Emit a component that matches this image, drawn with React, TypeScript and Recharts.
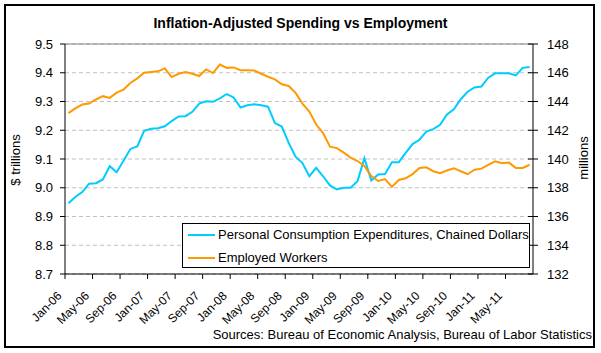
import React from 'react';
import { LineChart, Line, XAxis, YAxis, CartesianGrid, ReferenceLine } from 'recharts';

const years = ['06', '07', '08', '09', '10', '11'];
const monthNames = ['Jan', 'Feb', 'Mar', 'Apr', 'May', 'Jun', 'Jul', 'Aug', 'Sep', 'Oct', 'Nov', 'Dec'];

// Jan-06 .. Aug-11
const spending = [
  8.946, 8.968, 8.985, 9.014, 9.016, 9.029, 9.075, 9.054, 9.094, 9.135, 9.144, 9.198,
  9.205, 9.207, 9.214, 9.232, 9.248, 9.249, 9.264, 9.293, 9.301, 9.299, 9.311, 9.326,
  9.314, 9.279, 9.287, 9.29, 9.287, 9.282, 9.225, 9.213, 9.156, 9.108, 9.086, 9.04,
  9.069, 9.04, 9.008, 8.994, 9.0, 9.0, 9.023, 9.103, 9.025, 9.046, 9.048, 9.089,
  9.089, 9.121, 9.152, 9.167, 9.195, 9.204, 9.219, 9.255, 9.273, 9.308, 9.334, 9.349,
  9.352, 9.383, 9.398, 9.398, 9.398, 9.391, 9.417, 9.42,
];

const workers = [
  143.19, 143.52, 143.79, 143.86, 144.14, 144.37, 144.25, 144.62, 144.83, 145.29, 145.61, 146.0,
  146.05, 146.1, 146.3, 145.7, 145.93, 146.05, 145.93, 145.77, 146.23, 145.98, 146.57, 146.34,
  146.37, 146.18, 146.18, 146.16, 145.93, 145.72, 145.54, 145.2, 145.08, 144.6, 143.85, 143.3,
  142.4, 141.8, 140.86, 140.76, 140.44, 140.1, 139.86, 139.51, 138.82, 138.47, 138.6, 138.06,
  138.54, 138.66, 138.95, 139.38, 139.42, 139.15, 139.01, 139.2, 139.36, 139.15, 138.94, 139.26,
  139.33, 139.59, 139.84, 139.7, 139.75, 139.38, 139.38, 139.6,
];

const leftTicks = [8.7, 8.8, 8.9, 9.0, 9.1, 9.2, 9.3, 9.4, 9.5];
const rightTicks = [132, 134, 136, 138, 140, 142, 144, 146, 148];

const labels: string[] = [];
years.forEach((y) => monthNames.forEach((m) => labels.push(`${m}-${y}`)));

const data = spending.map((v, i) => ({ month: labels[i], pce: v, emp: workers[i] }));

const FONT = 'Arial, "Liberation Sans", sans-serif';
const BLUE = '#00ccff';
const ORANGE = '#ff9900';

// excel puts the tick marks on category boundaries, half a step left of the point
const XTick = (props: any) => {
  const { x, y, payload } = props;
  const bx = x - 3.44;
  const ox = bx - 2.5;
  const oy = y + 22.5;
  return (
    <g>
      <line x1={bx} x2={bx} y1={y} y2={y + 5} stroke="#000" />
      <text x={ox} y={oy} textAnchor="end" fontSize={12} fontFamily={FONT} fill="#000"
        transform={`rotate(-45 ${ox} ${oy})`}>{payload.value}</text>
    </g>
  );
};

const LeftTick = (props: any) => {
  const { x, y, payload } = props;
  return (
    <g>
      <line x1={x - 5} x2={x} y1={y} y2={y} stroke="#000" />
      <text x={x - 12} y={y} dy={4.5} textAnchor="end" fontSize={13} fontFamily={FONT} fill="#000">
        {Number(payload.value).toFixed(1)}
      </text>
    </g>
  );
};

const RightTick = (props: any) => {
  const { x, y, payload } = props;
  return (
    <g>
      <line x1={x - 5} x2={x + 5} y1={y} y2={y} stroke="#000" />
      <text x={x + 14} y={y} dy={4.5} textAnchor="start" fontSize={13} fontFamily={FONT} fill="#000">
        {payload.value}
      </text>
    </g>
  );
};

export default function App() {
  return (
    <div style={{ position: 'absolute', left: 0, top: 0, width: 601, height: 353, background: '#fff', fontFamily: FONT, color: '#000' }}>
      <div style={{ position: 'absolute', left: 4, top: 4, width: 591, height: 344, border: '2px solid #000', boxSizing: 'border-box' }} />
      <div style={{ position: 'absolute', left: 0, top: 15, width: 601, textAlign: 'center', fontWeight: 'bold', fontSize: 14, lineHeight: '16px' }}>
        Inflation-Adjusted Spending vs Employment
      </div>
      <div style={{ position: 'absolute', left: 0, top: 0 }}>
        <LineChart width={601} height={353} data={data} margin={{ top: 44, right: 0, bottom: 0, left: 0 }}>
          <CartesianGrid yAxisId="l" vertical={false} stroke="#c0c0c0" strokeDasharray="4 3" />
          <XAxis dataKey="month" interval={3} height={79} padding={{ left: 3.44, right: 3.44 }}
            tickSize={0} tickMargin={0} tickLine={false} axisLine={{ stroke: '#000' }} tick={<XTick />} />
          <YAxis yAxisId="l" orientation="left" width={65} domain={[8.7, 9.5]} ticks={leftTicks}
            tickSize={0} tickMargin={0} tickLine={false} axisLine={{ stroke: '#000' }} tick={<LeftTick />} />
          <YAxis yAxisId="r" orientation="right" width={68} domain={[132, 148]} ticks={rightTicks}
            tickSize={0} tickMargin={0} tickLine={false} axisLine={{ stroke: '#000' }} tick={<RightTick />} />
          <ReferenceLine yAxisId="l" y={9.5} stroke="#808080" />
          <Line yAxisId="l" type="linear" dataKey="pce" stroke={BLUE} strokeWidth={2} dot={false} isAnimationActive={false} />
          <Line yAxisId="r" type="linear" dataKey="emp" stroke={ORANGE} strokeWidth={2} dot={false} isAnimationActive={false} />
        </LineChart>
      </div>
      <div style={{ position: 'absolute', left: 15, top: 160, transform: 'translate(-50%, -50%) rotate(-90deg)', whiteSpace: 'nowrap', fontSize: 13 }}>
        $ trillions
      </div>
      <div style={{ position: 'absolute', left: 583, top: 158, transform: 'translate(-50%, -50%) rotate(-90deg)', whiteSpace: 'nowrap', fontSize: 13 }}>
        millions
      </div>
      <div style={{ position: 'absolute', left: 182, top: 223, width: 348, height: 45, border: '1px solid #000', boxSizing: 'border-box', background: '#fff', fontSize: 13 }}>
        <div style={{ position: 'absolute', left: 5, top: 10, width: 27, height: 2, background: BLUE }} />
        <div style={{ position: 'absolute', left: 35, top: 3, lineHeight: '15px', whiteSpace: 'nowrap' }}>
          Personal Consumption Expenditures, Chained Dollars
        </div>
        <div style={{ position: 'absolute', left: 5, top: 33, width: 27, height: 2, background: ORANGE }} />
        <div style={{ position: 'absolute', left: 35, top: 26, lineHeight: '15px', whiteSpace: 'nowrap' }}>
          Employed Workers
        </div>
      </div>
      <div style={{ position: 'absolute', right: 9, top: 327, lineHeight: '15px', fontSize: 13, whiteSpace: 'nowrap' }}>
        Sources: Bureau of Economic Analysis, Bureau of Labor Statistics
      </div>
    </div>
  );
}
